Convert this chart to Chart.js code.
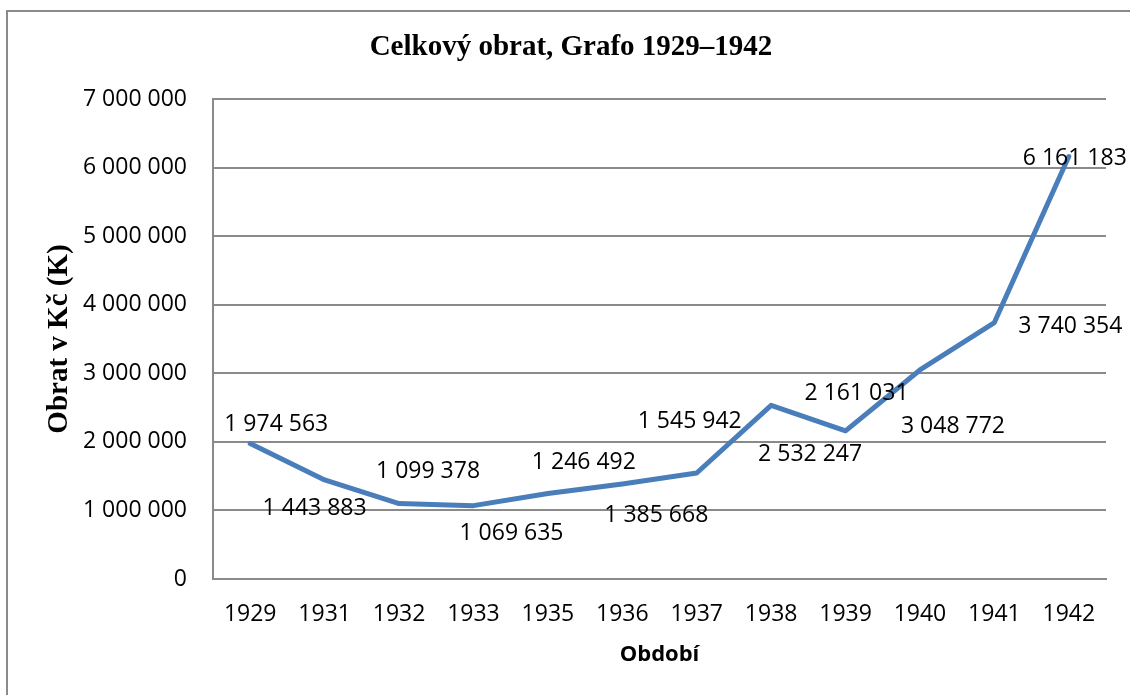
<!DOCTYPE html>
<html>
<head>
<meta charset="utf-8">
<title>Celkový obrat, Grafo 1929–1942</title>
<script src="https://cdn.jsdelivr.net/npm/chart.js@4"></script>
<style>
  body { margin: 0; background: #fff; }
  #wrap { position: relative; width: 1130px; height: 695px; overflow: hidden; }
  #frame { position: absolute; left: 6px; top: 10px; width: 1300px; height: 900px; border: 2px solid #8a8a8a; pointer-events: none; }
</style>
</head>
<body>
<div id="wrap">
  <canvas id="chart" width="1130" height="695"></canvas>
  <div id="frame"></div>
</div>
<script>
// Celkový obrat, Grafo 1929–1942

const years = ["1929", "1931", "1932", "1933", "1935", "1936", "1937", "1938", "1939", "1940", "1941", "1942"];

const turnover = [1974563, 1443883, 1099378, 1069635, 1246492, 1385668, 1545942, 2532247, 2161031, 3048772, 3740354, 6161183];

const yTicks = [0, 1000000, 2000000, 3000000, 4000000, 5000000, 6000000, 7000000];

// where each value label sits, relative to its point (px)
const labelShift = [
  [26, -19], [-10, 28], [29, -32], [38, 28], [36, -31], [34, 31],
  [-7, -52], [39, 49], [11, -37], [33, 57], [76, 4], [6, 2]
];

const spaced = n => String(n).replace(/\B(?=(\d{3})+(?!\d))/g, " ");

const textPlugin = {
  id: "texts",
  afterDatasetsDraw(chart) {
    const ctx = chart.ctx;
    const area = chart.chartArea;
    ctx.save();
    ctx.fillStyle = "#000";
    ctx.textAlign = "center";
    ctx.textBaseline = "middle";

    ctx.font = "bold 29px 'Liberation Serif'";
    ctx.fillText("Celkový obrat, Grafo 1929–1942", 571, 48);

    ctx.font = "bold 22px 'Open Sans'";
    ctx.fillText("Období", (area.left + area.right) / 2, 655);

    ctx.save();
    ctx.translate(60, (area.top + area.bottom) / 2);
    ctx.rotate(-Math.PI / 2);
    ctx.font = "bold 29px 'Liberation Serif'";
    ctx.fillText("Obrat v Kč (K)", 0, 0);
    ctx.restore();

    ctx.font = "23px 'Open Sans'";
    const pts = chart.getDatasetMeta(0).data;
    pts.forEach((p, i) => {
      ctx.fillText(spaced(turnover[i]), p.x + labelShift[i][0], p.y + labelShift[i][1]);
    });
    ctx.restore();
  }
};

new Chart(document.getElementById("chart"), {

  type: "line",

  data: {
    labels: years,
    datasets: [{
      label: "Celkový obrat",
      data: turnover,
      borderColor: "#4a7ebb",
      borderWidth: 5,
      borderJoinStyle: "round",
      borderCapStyle: "round",
      pointRadius: 0,
      tension: 0,
      fill: false
    }]
  },

  options: {
    responsive: false,
    animation: false,
    layout: { padding: { top: 99, right: 24, left: 0, bottom: 0 } },
    plugins: {
      legend: { display: false },
      title: { display: false },
      tooltip: { enabled: false }
    },
    scales: {
      x: {
        offset: true,
        grid: { display: false, drawTicks: false },
        border: { display: true, color: "#8a8a8a", width: 2 },
        ticks: { color: "#000", font: { family: "Open Sans", size: 23 }, padding: 22, maxRotation: 0 },
        afterFit: s => { s.height = 116; }
      },
      y: {
        min: 0,
        max: 7000000,
        afterBuildTicks: s => { s.ticks = yTicks.map(v => ({ value: v })); },
        grid: { color: "#8a8a8a", lineWidth: 2, drawTicks: false },
        border: { display: true, color: "#8a8a8a", width: 2 },
        ticks: { color: "#000", font: { family: "Open Sans", size: 23 }, padding: 26, callback: v => spaced(v) },
        afterFit: s => { s.width = 213; }
      }
    }
  },

  plugins: [textPlugin]

});
</script>
</body>
</html>
